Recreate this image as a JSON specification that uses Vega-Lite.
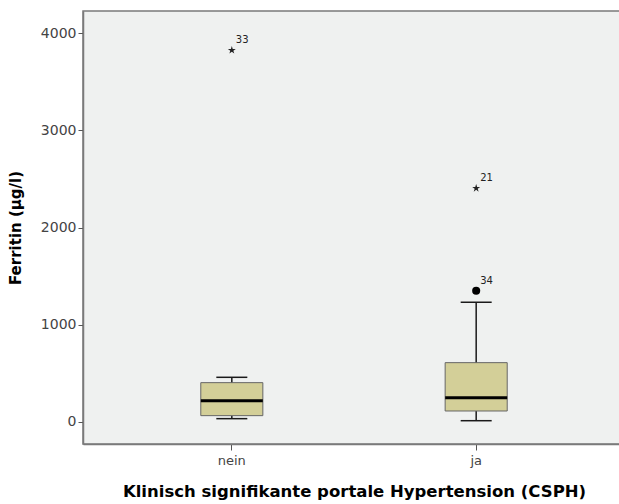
{
  "$schema": "https://vega.github.io/schema/vega-lite/v6.json",
  "autosize": {"type": "none"},
  "width": 542,
  "height": 433,
  "padding": {"left": 83, "top": 11, "right": 0, "bottom": 60},
  "background": "#ffffff",
  "config": {
    "view": {"fill": "#eff1f0", "stroke": "#7a7a7a", "strokeWidth": 1.5},
    "font": "DejaVu Sans",
    "axis": {
      "labelFont": "DejaVu Sans",
      "labelFontSize": 13,
      "labelColor": "#444444",
      "titleFont": "DejaVu Sans",
      "titleFontWeight": "bold",
      "titleColor": "#000000",
      "domainColor": "#7a7a7a",
      "domainWidth": 1.5,
      "tickColor": "#555555",
      "tickWidth": 1,
      "tickSize": 6,
      "grid": false
    }
  },
  "datasets": {
    "boxes": [
      {"group": "nein", "lower": 31, "q1": 62, "median": 216, "q3": 402, "upper": 457},
      {"group": "ja", "lower": 10, "q1": 110, "median": 247, "q3": 608, "upper": 1230}
    ],
    "outliers": [
      {"group": "nein", "value": 3826, "label": "33", "kind": "extreme"},
      {"group": "ja", "value": 2404, "label": "21", "kind": "extreme"},
      {"group": "ja", "value": 1349, "label": "34", "kind": "outlier"}
    ]
  },
  "encoding": {
    "x": {
      "field": "group",
      "type": "nominal",
      "sort": ["nein", "ja"],
      "scale": {"type": "band", "paddingInner": 0.746, "paddingOuter": 0.482},
      "axis": {
        "title": "Klinisch signifikante portale Hypertension (CSPH)",
        "labelAngle": 0,
        "labelPadding": 4,
        "titleFontSize": 16.5,
        "titlePadding": 16
      }
    }
  },
  "layer": [
    {
      "data": {"name": "boxes"},
      "mark": {"type": "rule", "color": "#1a1a1a", "strokeWidth": 1.5},
      "encoding": {
        "y": {
          "field": "lower",
          "type": "quantitative",
          "scale": {"domain": [-230, 4230], "nice": false, "zero": false},
          "axis": {
            "title": "Ferritin (µg/l)",
            "values": [0, 1000, 2000, 3000, 4000],
            "format": "d",
            "labelFontSize": 14,
            "titleFontSize": 15,
            "titlePadding": 17,
            "labelPadding": 2,
            "tickSize": 5
          }
        },
        "y2": {"field": "upper"}
      }
    },
    {
      "data": {"name": "boxes"},
      "mark": {"type": "bar", "fill": "#d3cf98", "stroke": "#666666", "strokeWidth": 1, "opacity": 1},
      "encoding": {
        "y": {"field": "q1", "type": "quantitative"},
        "y2": {"field": "q3"}
      }
    },
    {
      "data": {"name": "boxes"},
      "mark": {"type": "tick", "color": "#000000", "opacity": 1, "thickness": 3, "size": 62},
      "encoding": {"y": {"field": "median", "type": "quantitative"}}
    },
    {
      "data": {"name": "boxes"},
      "mark": {"type": "tick", "color": "#1a1a1a", "opacity": 1, "thickness": 1.5, "size": 31},
      "encoding": {"y": {"field": "lower", "type": "quantitative"}}
    },
    {
      "data": {"name": "boxes"},
      "mark": {"type": "tick", "color": "#1a1a1a", "opacity": 1, "thickness": 1.5, "size": 31},
      "encoding": {"y": {"field": "upper", "type": "quantitative"}}
    },
    {
      "data": {"name": "outliers"},
      "transform": [{"filter": "datum.kind === 'extreme'"}],
      "mark": {
        "type": "point",
        "filled": true,
        "color": "#222222",
        "opacity": 1,
        "size": 70,
        "shape": "M0,-1L0.223,-0.307L0.951,-0.309L0.361,0.117L0.588,0.809L0,0.38L-0.588,0.809L-0.361,0.117L-0.951,-0.309L-0.223,-0.307Z"
      },
      "encoding": {"y": {"field": "value", "type": "quantitative"}}
    },
    {
      "data": {"name": "outliers"},
      "transform": [{"filter": "datum.kind === 'outlier'"}],
      "mark": {"type": "point", "filled": true, "color": "#000000", "opacity": 1, "size": 65, "shape": "circle"},
      "encoding": {"y": {"field": "value", "type": "quantitative"}}
    },
    {
      "data": {"name": "outliers"},
      "mark": {"type": "text", "align": "left", "baseline": "bottom", "dx": 4, "dy": -5, "fontSize": 10, "color": "#222222", "font": "DejaVu Sans"},
      "encoding": {
        "y": {"field": "value", "type": "quantitative"},
        "text": {"field": "label"}
      }
    }
  ]
}
